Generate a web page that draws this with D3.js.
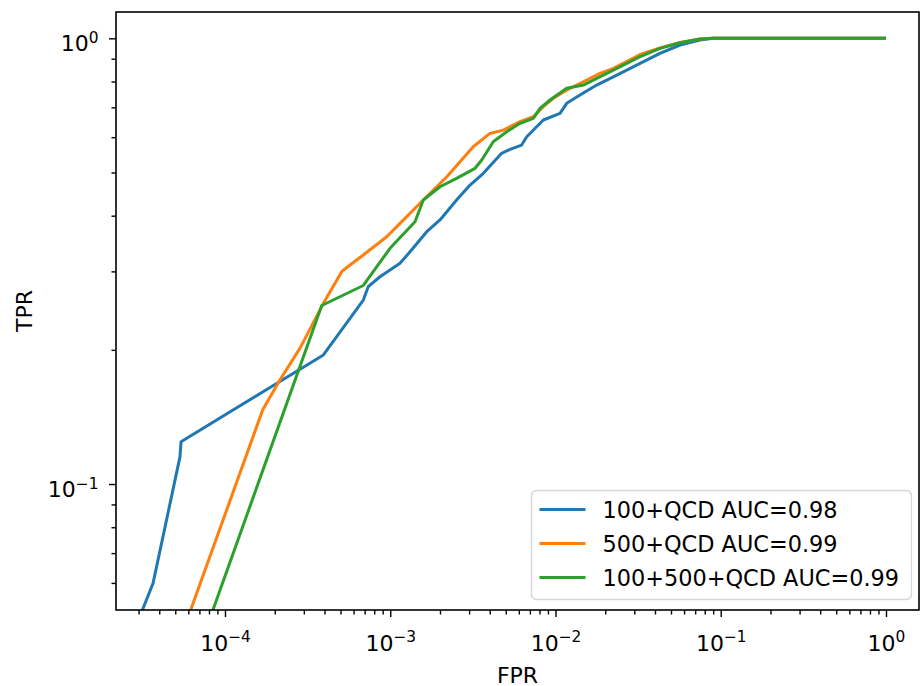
<!DOCTYPE html>
<html>
<head>
<meta charset="utf-8">
<script src="https://cdn.jsdelivr.net/npm/d3@7"></script>
<style>
body { margin: 0; background: #fff; }
text { font-family: "DejaVu Sans", sans-serif; fill: #000; }
</style>
</head>
<body>
<div id="chart"></div>
<script>
var width = 921;
var height = 686;
var margin = {top: 12, right: 2, bottom: 76, left: 116};
var fontSize = 22;

// ROC curves
var fpr100 = [3.03e-5, 3.67e-5, 5.34e-5, 5.42e-5, 3.94e-4, 6.87e-4, 7.36e-4, 8.67e-4, 1.146e-3, 1.318e-3,
    1.663e-3, 2.0e-3, 2.52e-3, 3.04e-3, 3.66e-3, 4.72e-3, 5.31e-3, 6.24e-3, 6.70e-3, 8.44e-3,
    1.065e-2, 1.169e-2, 1.407e-2, 1.775e-2, 2.35e-2, 3.25e-2, 4.29e-2, 5.67e-2, 7.49e-2, 9.01e-2, 1.0];
var tpr100 = [0.0501, 0.0599, 0.1151, 0.1244, 0.1948, 0.2587, 0.2772, 0.2918, 0.3128, 0.3321,
    0.3682, 0.3912, 0.4337, 0.4687, 0.4979, 0.5521, 0.5636, 0.5762, 0.6015, 0.6557,
    0.6788, 0.7148, 0.7461, 0.7855, 0.8271, 0.8789, 0.9254, 0.9660, 0.9913, 1.0, 1.0];

var fpr500 = [5.96e-5, 1.69e-4, 2.13e-4, 2.84e-4, 3.94e-4, 5.08e-4, 5.71e-4, 6.87e-4, 9.52e-4, 1.146e-3,
    1.514e-3, 2.20e-3, 3.18e-3, 4.01e-3, 4.83e-3, 6.10e-3, 7.34e-3, 8.44e-3, 9.70e-3, 1.224e-2,
    1.474e-2, 1.859e-2, 2.24e-2, 3.25e-2, 4.29e-2, 5.67e-2, 7.49e-2, 9.01e-2, 1.0];
var tpr500 = [0.0501, 0.1466, 0.1703, 0.2016, 0.2543, 0.2995, 0.3101, 0.3265, 0.3588, 0.3845,
    0.4264, 0.4892, 0.5712, 0.6118, 0.6223, 0.6500, 0.6670, 0.7024, 0.7335, 0.7725,
    0.7990, 0.8345, 0.8563, 0.9198, 0.9511, 0.9786, 0.9964, 1.0, 1.0];

var fprBoth = [8.13e-5, 3.85e-4, 6.87e-4, 9.97e-4, 1.412e-3, 1.585e-3, 2.0e-3, 2.52e-3, 3.26e-3, 3.58e-3,
    4.20e-3, 5.07e-3, 6.10e-3, 7.34e-3, 8.06e-3, 9.26e-3, 1.169e-2, 1.474e-2, 1.693e-2, 2.35e-2,
    3.25e-2, 4.29e-2, 5.67e-2, 7.49e-2, 9.01e-2, 1.0];
var tprBoth = [0.0501, 0.2515, 0.2789, 0.3380, 0.3877, 0.4337, 0.4645, 0.4852, 0.5109, 0.5333,
    0.5861, 0.6172, 0.6445, 0.6615, 0.6966, 0.7271, 0.7725, 0.7855, 0.8061, 0.8563,
    0.9094, 0.9496, 0.9775, 0.9964, 1.0, 1.0];

var seriesNames = ["100+QCD AUC=0.98", "500+QCD AUC=0.99", "100+500+QCD AUC=0.99"];
var seriesColors = ["#1f77b4", "#ff7f0e", "#2ca02c"];
var xMajor = [1e-4, 1e-3, 1e-2, 1e-1, 1];
var yMajor = [1e-1, 1];

var series = [
    {name: seriesNames[0], color: seriesColors[0], x: fpr100, y: tpr100},
    {name: seriesNames[1], color: seriesColors[1], x: fpr500, y: tpr500},
    {name: seriesNames[2], color: seriesColors[2], x: fprBoth, y: tprBoth}
];

var svg = d3.select("#chart")
    .append("svg")
    .attr("width", width)
    .attr("height", height);

var xScale = d3.scaleLog()
    .domain([2.19e-5, 1.584])
    .range([margin.left, width - margin.right]);

var yScale = d3.scaleLog()
    .domain([0.05217, 1.1456])
    .range([height - margin.bottom, margin.top]);

// minor ticks 2..9 of every decade inside the domain
function minorTicks(scale) {
    var dom = scale.domain();
    var out = [];
    for (var e = Math.floor(Math.log10(dom[0])); e <= Math.ceil(Math.log10(dom[1])); e++) {
        for (var k = 2; k <= 9; k++) {
            var v = k * Math.pow(10, e);
            if (v >= dom[0] && v <= dom[1]) out.push(v);
        }
    }
    return out;
}

function supLabel(sel) {
    sel.each(function(d) {
        var t = d3.select(this).text("");
        var ex = Math.round(Math.log10(d));
        t.append("tspan").text("10");
        t.append("tspan")
            .attr("dy", "-0.52em")
            .style("font-size", (fontSize * 0.7) + "px")
            .text(ex < 0 ? "\u2212" + (-ex) : ex);
    });
}

var x0 = height - margin.bottom;

// x axis
var xMinorAxis = d3.axisBottom(xScale).tickValues(minorTicks(xScale)).tickSize(4.5).tickFormat("");
var xMajorAxis = d3.axisBottom(xScale).tickValues(xMajor).tickSize(7).tickPadding(0);

svg.append("g").attr("class", "xMinor")
    .attr("transform", `translate(0, ${x0})`)
    .call(xMinorAxis);
var gx = svg.append("g").attr("class", "xAxis")
    .attr("transform", `translate(0, ${x0})`)
    .call(xMajorAxis);
gx.selectAll(".tick text")
    .attr("y", 40.5)
    .attr("dy", 0)
    .style("font-size", fontSize + "px")
    .call(supLabel);

// y axis
var yMinorAxis = d3.axisLeft(yScale).tickValues(minorTicks(yScale)).tickSize(4.5).tickFormat("");
var yMajorAxis = d3.axisLeft(yScale).tickValues(yMajor).tickSize(7);

svg.append("g").attr("class", "yMinor")
    .attr("transform", `translate(${margin.left}, 0)`)
    .call(yMinorAxis);
var gy = svg.append("g").attr("class", "yAxis")
    .attr("transform", `translate(${margin.left}, 0)`)
    .call(yMajorAxis);
gy.selectAll(".tick text")
    .attr("x", -17.5)
    .attr("dy", 12)
    .style("font-size", fontSize + "px")
    .call(supLabel);

svg.selectAll(".domain").remove();
svg.selectAll(".tick line").attr("stroke", "#000").attr("stroke-width", 1.4);

// curves
svg.append("clipPath").attr("id", "plotClip")
    .append("rect")
    .attr("x", margin.left).attr("y", margin.top)
    .attr("width", width - margin.left - margin.right)
    .attr("height", height - margin.top - margin.bottom);

var line = d3.line()
    .x(function(d) { return xScale(d[0]); })
    .y(function(d) { return yScale(d[1]); });

svg.append("g").attr("clip-path", "url(#plotClip)")
    .selectAll("path")
    .data(series)
    .enter()
    .append("path")
    .attr("fill", "none")
    .attr("stroke", function(d) { return d.color; })
    .attr("stroke-width", 3)
    .attr("stroke-linejoin", "round")
    .attr("d", function(d) {
        return line(d.x.map(function(v, i) { return [v, d.y[i]]; }));
    });

// frame
svg.append("rect")
    .attr("x", margin.left).attr("y", margin.top)
    .attr("width", width - margin.left - margin.right)
    .attr("height", height - margin.top - margin.bottom)
    .attr("fill", "none")
    .attr("stroke", "#000")
    .attr("stroke-width", 1.6);

// axis labels
svg.append("text")
    .attr("x", (margin.left + width - margin.right) / 2)
    .attr("y", 682.5)
    .attr("text-anchor", "middle")
    .style("font-size", fontSize + "px")
    .text("FPR");

svg.append("text")
    .attr("transform", `translate(31.5, ${(margin.top + height - margin.bottom) / 2}) rotate(-90)`)
    .attr("text-anchor", "middle")
    .style("font-size", fontSize + "px")
    .text("TPR");

// legend
var legend = svg.append("g").attr("class", "legend");
legend.append("rect")
    .attr("x", 531.5).attr("y", 490.5)
    .attr("width", 380).attr("height", 109)
    .attr("rx", 5).attr("ry", 5)
    .attr("fill", "#fff")
    .attr("fill-opacity", 0.8)
    .attr("stroke", "#d6d6d6")
    .attr("stroke-width", 1.4);

var rows = legend.selectAll("g.row")
    .data(series)
    .enter()
    .append("g")
    .attr("class", "row")
    .attr("transform", function(d, i) { return `translate(0, ${509.5 + i * 34})`; });
rows.append("line")
    .attr("x1", 539.5).attr("x2", 585.5)
    .attr("stroke", function(d) { return d.color; })
    .attr("stroke-width", 3);
rows.append("text")
    .attr("x", 602.5)
    .attr("y", 8.5)
    .style("font-size", "22.4px")
    .text(function(d) { return d.name; });
</script>
</body>
</html>
